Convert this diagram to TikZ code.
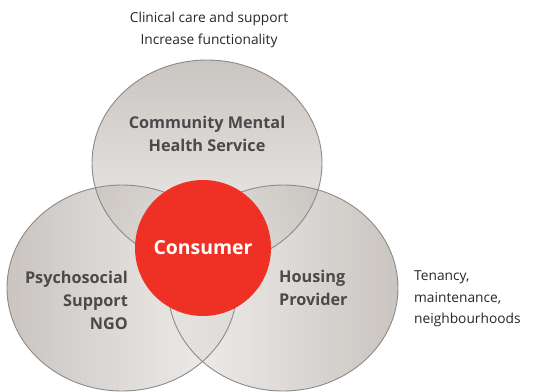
\documentclass[tikz,border=0pt]{standalone}
\usepackage{fontspec}
\setmainfont{Open Sans}
\usepackage{tikz}
\usetikzlibrary{shapes}
\definecolor{ringline}{HTML}{8C8A88}
\definecolor{ringdark}{HTML}{9E958E}
\definecolor{ringlight}{HTML}{E6E3E0}
\definecolor{consumerred}{HTML}{EE3124}
\definecolor{labelgrey}{HTML}{4A4A4C}
\tikzset{x=1bp, y=1bp,
  ring/.style={fill opacity=0.55},
  ringedge/.style={draw=ringline, line width=0.9bp},
  label/.style={font=\bfseries\fontsize{16.3}{23}\selectfont, text=labelgrey, inner sep=0pt},
  note/.style={font=\fontsize{13.8}{21.5}\selectfont, text=black!85, inner sep=0pt}}

\begin{document}
\begin{tikzpicture}
\useasboundingbox (0,0) rectangle (553,391);

% the three services
\shade[ring, top color=ringdark, bottom color=ringlight] (207,228) ellipse [x radius=115, y radius=103];
\shade[ring, left color=ringdark, right color=ringlight] (122,103) ellipse [x radius=115, y radius=103];
\shade[ring, left color=ringlight, right color=ringdark] (283,103) ellipse [x radius=115, y radius=103];

\draw[ringedge] (207,228) ellipse [x radius=115, y radius=103];
\draw[ringedge] (122,103) ellipse [x radius=115, y radius=103];
\draw[ringedge] (283,103) ellipse [x radius=115, y radius=103];

\node[circle, fill=consumerred, minimum size=136bp, inner sep=0pt] (consumer) at (203,143) {};
\node[font=\bfseries\fontsize{19.5}{23}\selectfont, text=white] (consumertext) at (consumer.center) {Consumer};

\node[label, align=center] (cmhs) at (207,257) {Community Mental\\Health Service};
\node[label, align=right, anchor=east] (ngo) at (128,91) {Psychosocial\\Support\\NGO};
\node[label, align=left, anchor=west] (housing) at (279,103) {Housing\\Provider};

\node[note, align=center] (clinical) at (209,361) {Clinical care and support\\Increase functionality};
\node[note, align=left, anchor=west] (tenancy) at (414,92) {Tenancy,\\maintenance,\\neighbourhoods};
\end{tikzpicture}
\end{document}
